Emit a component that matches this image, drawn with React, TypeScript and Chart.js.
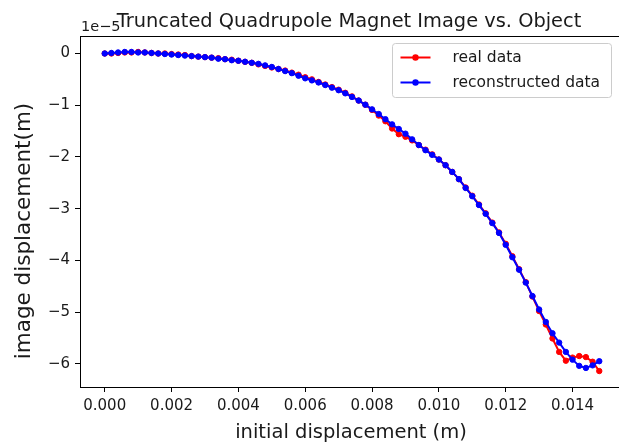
import { useEffect, useRef } from "react";
import { Chart, registerables } from "chart.js";

Chart.register(...registerables);

const TITLE = "Truncated Quadrupole Magnet Image vs. Object";
const X_LABEL = "initial displacement (m)";
const Y_LABEL = "image displacement(m)";
const Y_OFFSET_TEXT = "1e\u22125";
const SERIES_NAMES = ["real data", "reconstructed data"];
const SERIES_COLORS = ["#ff0000", "#0000ff"];

const X_VALUES = [
  0.0, 0.0002, 0.0004, 0.0006, 0.0008, 0.001, 0.0012, 0.0014, 0.0016, 0.0018,
  0.002, 0.0022, 0.0024, 0.0026, 0.0028, 0.003, 0.0032, 0.0034, 0.0036, 0.0038,
  0.004, 0.0042, 0.0044, 0.0046, 0.0048, 0.005, 0.0052, 0.0054, 0.0056, 0.0058,
  0.006, 0.0062, 0.0064, 0.0066, 0.0068, 0.007, 0.0072, 0.0074, 0.0076, 0.0078,
  0.008, 0.0082, 0.0084, 0.0086, 0.0088, 0.009, 0.0092, 0.0094, 0.0096, 0.0098,
  0.01, 0.0102, 0.0104, 0.0106, 0.0108, 0.011, 0.0112, 0.0114, 0.0116, 0.0118,
  0.012, 0.0122, 0.0124, 0.0126, 0.0128, 0.013, 0.0132, 0.0134, 0.0136, 0.0138,
  0.014, 0.0142, 0.0144, 0.0146, 0.0148,
];

// image displacement, in units of 1e-5 m
const REAL_DATA = [
  0.0, 0.0, 0.01, 0.02, 0.02, 0.03, 0.02, 0.01, 0.0, 0.0,
  -0.01, -0.02, -0.03, -0.05, -0.06, -0.07, -0.08, -0.09, -0.11, -0.12,
  -0.14, -0.16, -0.18, -0.21, -0.24, -0.27, -0.3, -0.33, -0.37, -0.41,
  -0.46, -0.5, -0.55, -0.6, -0.65, -0.7, -0.76, -0.83, -0.91, -0.99,
  -1.09, -1.2, -1.31, -1.45, -1.56, -1.61, -1.68, -1.77, -1.86, -1.95,
  -2.05, -2.16, -2.29, -2.43, -2.59, -2.75, -2.92, -3.09, -3.27, -3.46,
  -3.68, -3.92, -4.17, -4.42, -4.7, -4.98, -5.24, -5.51, -5.77, -5.94,
  -5.88, -5.85, -5.87, -5.96, -6.14,
];

const RECON_DATA = [
  0.0, 0.01, 0.02, 0.03, 0.03, 0.02, 0.02, 0.01, 0.0, -0.01,
  -0.02, -0.03, -0.04, -0.05, -0.06, -0.07, -0.08, -0.1, -0.11, -0.13,
  -0.14, -0.16, -0.18, -0.2, -0.23, -0.26, -0.3, -0.34, -0.38, -0.43,
  -0.48, -0.52, -0.56, -0.61, -0.66, -0.71, -0.77, -0.84, -0.91, -0.99,
  -1.08, -1.17, -1.27, -1.37, -1.46, -1.55, -1.66, -1.77, -1.87, -1.96,
  -2.05, -2.16, -2.29, -2.43, -2.6, -2.76, -2.93, -3.1, -3.28, -3.47,
  -3.7, -3.94, -4.18, -4.43, -4.69, -4.95, -5.19, -5.41, -5.59, -5.77,
  -5.92, -6.04, -6.08, -6.03, -5.95,
];

const X_TICKS = [0.0, 0.002, 0.004, 0.006, 0.008, 0.01, 0.012, 0.014];
const Y_TICKS = [0, -1, -2, -3, -4, -5, -6];

const FONT = "'DejaVu Sans', sans-serif";
const TEXT_COLOR = "#1a1a1a";

// the figure is cropped on the right: the axes run past the visible edge
const VIEW_W = 619;
const VIEW_H = 443;
const CANVAS_W = 660;

function paddedRange(values: number[], frac: number) {
  const lo = Math.min(...values);
  const hi = Math.max(...values);
  const pad = (hi - lo) * frac;
  return [lo - pad, hi + pad];
}

const decorPlugin = {
  id: "decor",
  afterDraw(chart: any) {
    const { ctx, chartArea: a } = chart;
    ctx.save();
    // axes frame
    ctx.strokeStyle = "#000";
    ctx.lineWidth = 1;
    ctx.strokeRect(
      Math.round(a.left) + 0.5,
      Math.round(a.top) + 0.5,
      Math.round(a.right - a.left),
      Math.round(a.bottom - a.top)
    );
    const cx = (a.left + a.right) / 2 - 1;
    ctx.fillStyle = TEXT_COLOR;
    // title
    ctx.font = `19.4px ${FONT}`;
    ctx.textAlign = "center";
    ctx.textBaseline = "alphabetic";
    ctx.fillText(TITLE, cx - 2, a.top - 9);
    // offset text
    ctx.font = `14.5px ${FONT}`;
    ctx.textAlign = "left";
    ctx.fillText(Y_OFFSET_TEXT, a.left + 1, a.top - 5);
    // x label
    ctx.font = `19.5px ${FONT}`;
    ctx.textAlign = "center";
    ctx.fillText(X_LABEL, cx, 438);
    // y label
    ctx.save();
    ctx.translate(24, 231);
    ctx.rotate(-Math.PI / 2);
    ctx.font = `21.5px ${FONT}`;
    ctx.textAlign = "center";
    ctx.textBaseline = "middle";
    ctx.fillText(Y_LABEL, 0, 0);
    ctx.restore();

    // legend
    const lx1 = a.right - 12.5;
    const lx0 = lx1 - 219;
    const ly0 = a.top + 7.5;
    const ly1 = ly0 + 54;
    const r = 3;
    ctx.beginPath();
    ctx.moveTo(lx0 + r, ly0);
    ctx.lineTo(lx1 - r, ly0);
    ctx.arcTo(lx1, ly0, lx1, ly0 + r, r);
    ctx.lineTo(lx1, ly1 - r);
    ctx.arcTo(lx1, ly1, lx1 - r, ly1, r);
    ctx.lineTo(lx0 + r, ly1);
    ctx.arcTo(lx0, ly1, lx0, ly1 - r, r);
    ctx.lineTo(lx0, ly0 + r);
    ctx.arcTo(lx0, ly0, lx0 + r, ly0, r);
    ctx.closePath();
    ctx.fillStyle = "rgba(255,255,255,0.8)";
    ctx.fill();
    ctx.strokeStyle = "#cccccc";
    ctx.stroke();

    SERIES_NAMES.forEach((name, i) => {
      const y = ly0 + 14 + i * 25;
      const hx0 = lx0 + 8;
      const hx1 = hx0 + 30;
      ctx.strokeStyle = SERIES_COLORS[i];
      ctx.lineWidth = 2;
      ctx.beginPath();
      ctx.moveTo(hx0, y);
      ctx.lineTo(hx1, y);
      ctx.stroke();
      ctx.fillStyle = SERIES_COLORS[i];
      ctx.beginPath();
      ctx.arc((hx0 + hx1) / 2, y, 3.2, 0, Math.PI * 2);
      ctx.fill();
      ctx.fillStyle = TEXT_COLOR;
      ctx.font = `15.5px ${FONT}`;
      ctx.textAlign = "left";
      ctx.textBaseline = "middle";
      ctx.fillText(name, lx0 + 60, y);
    });
    ctx.restore();
  },
};

export default function App() {
  const canvasRef = useRef<HTMLCanvasElement | null>(null);

  useEffect(() => {
    if (!canvasRef.current) return;
    const [xMin, xMax] = paddedRange(X_VALUES, 0.05);
    const [yMin, yMax] = paddedRange([...REAL_DATA, ...RECON_DATA], 0.05);

    const makeDataset = (i: number, values: number[], order: number) => ({
      label: SERIES_NAMES[i],
      data: X_VALUES.map((x, k) => ({ x, y: values[k] })),
      borderColor: SERIES_COLORS[i],
      backgroundColor: SERIES_COLORS[i],
      pointBackgroundColor: SERIES_COLORS[i],
      pointBorderColor: SERIES_COLORS[i],
      borderWidth: 2,
      pointRadius: 2.7,
      pointBorderWidth: 1,
      tension: 0,
      order,
    });

    const tickFont = { family: FONT, size: 15 };
    const chart = new Chart(canvasRef.current, {
      type: "line",
      data: {
        datasets: [makeDataset(0, REAL_DATA, 2), makeDataset(1, RECON_DATA, 1)],
      },
      options: {
        responsive: false,
        animation: false,
        devicePixelRatio: 1,
        events: [],
        layout: {
          autoPadding: false,
          padding: { top: 36, right: CANVAS_W - 624, bottom: 0, left: 0 },
        },
        plugins: {
          legend: { display: false },
          title: { display: false },
          tooltip: { enabled: false },
        },
        scales: {
          x: {
            type: "linear",
            min: xMin,
            max: xMax,
            afterBuildTicks: (s: any) => {
              s.ticks = X_TICKS.map((v) => ({ value: v }));
            },
            afterFit: (s: any) => {
              s.height = 56;
              s.paddingLeft = 0;
              s.paddingRight = 0;
            },
            grid: {
              drawOnChartArea: false,
              drawTicks: true,
              tickLength: 5,
              tickColor: "#000",
              lineWidth: 1,
            },
            border: { display: false },
            ticks: {
              font: tickFont,
              color: TEXT_COLOR,
              padding: 5,
              maxRotation: 0,
              autoSkip: false,
              callback: (v: any) => Number(v).toFixed(3),
            },
          },
          y: {
            type: "linear",
            min: yMin,
            max: yMax,
            afterBuildTicks: (s: any) => {
              s.ticks = Y_TICKS.map((v) => ({ value: v }));
            },
            afterFit: (s: any) => {
              s.width = 80;
              s.paddingTop = 0;
              s.paddingBottom = 0;
            },
            grid: {
              drawOnChartArea: false,
              drawTicks: true,
              tickLength: 5,
              tickColor: "#000",
              lineWidth: 1,
            },
            border: { display: false },
            ticks: {
              font: tickFont,
              color: TEXT_COLOR,
              padding: 5,
              autoSkip: false,
              callback: (v: any) =>
                Number(v) === 0 ? "0" : "\u2212" + Math.abs(Number(v)),
            },
          },
        },
      },
      plugins: [decorPlugin],
    } as any);
    return () => chart.destroy();
  }, []);

  return (
    <div
      style={{
        position: "fixed",
        left: 0,
        top: 0,
        width: VIEW_W,
        height: VIEW_H,
        overflow: "hidden",
        background: "#fff",
      }}
    >
      <canvas
        ref={canvasRef}
        width={CANVAS_W}
        height={VIEW_H}
        style={{ display: "block", width: CANVAS_W, height: VIEW_H }}
      />
    </div>
  );
}
